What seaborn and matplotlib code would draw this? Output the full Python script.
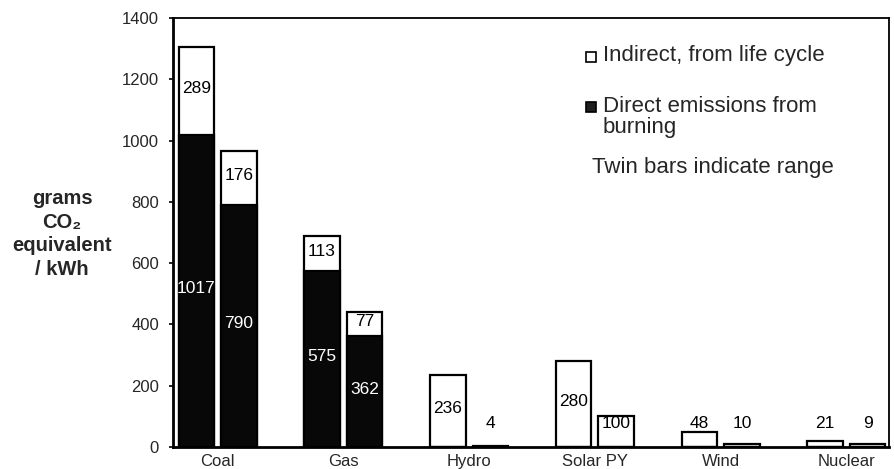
import numpy as np
import pandas as pd
import matplotlib
matplotlib.use('Agg')
import matplotlib.pyplot as plt
from matplotlib.patches import Rectangle
import seaborn as sns

# data
categories = ['Coal', 'Gas', 'Hydro', 'Solar PY', 'Wind', 'Nuclear']
direct_high = [1017, 575, 0, 0, 0, 0]
indirect_high = [289, 113, 236, 280, 48, 21]
direct_low = [790, 362, 0, 0, 0, 0]
indirect_low = [176, 77, 4, 100, 10, 9]
yticks = [0, 200, 400, 600, 800, 1000, 1200, 1400]

sns.set_style('white')
plt.rcParams['font.family'] = ['Liberation Sans', 'DejaVu Sans']

#long table: one row per bar
rows = []
for i, cat in enumerate(categories):
    rows.append([cat, 'high', direct_high[i], indirect_high[i]])
    rows.append([cat, 'low', direct_low[i], indirect_low[i]])
df = pd.DataFrame(rows, columns=['category', 'bar', 'direct', 'indirect'])
df['total'] = df['direct'] + df['indirect']

fig = plt.figure(figsize=(8.95, 4.69), dpi=100)
ax = fig.add_axes([173/895, 1-447/469, (889-173)/895, (447-18)/469])

common = dict(data=df, x='category', hue='bar', hue_order=['high', 'low'],
              order=categories, width=0.676, gap=0.166, errorbar=None,
              edgecolor='black', linewidth=1.6, legend=False, ax=ax)
sns.barplot(y='total', palette={'high': 'white', 'low': 'white'}, **common)
sns.barplot(y='direct', palette={'high': '#080808', 'low': '#080808'}, **common)

# value labels, centred on each bar
tot_conts = ax.containers[:2]
dir_conts = ax.containers[2:4]
for k, (tc, dc) in enumerate(zip(tot_conts, dir_conts)):
    sub = df[df['bar'] == ['high', 'low'][k]].reset_index(drop=True)
    for j, (tp, dp) in enumerate(zip(tc.patches, dc.patches)):
        xc = tp.get_x() + tp.get_width()/2
        d = sub.loc[j, 'direct']
        ind = sub.loc[j, 'indirect']
        ymid = d + ind/2
        ax.text(xc, max(ymid + 8, 78), str(ind), ha='center', va='center',
                fontsize=12.5, color='black')
        if d > 0:
            ax.text(xc, d/2 + 8, str(d), ha='center', va='center',
                    fontsize=12.5, color='white')

ax.set_xlim(-0.354, 5.338)
ax.set_ylim(0, 1400)
ax.set_yticks(yticks)
ax.set_yticklabels([str(t) for t in yticks], fontsize=12)
ax.tick_params(axis='y', left=True, length=3, width=1.2, pad=7, color='black')
ax.tick_params(axis='x', length=0, pad=5, labelsize=12)
ax.set_xlabel('')
ax.set_ylabel('')
for s in ax.spines.values():
    s.set_visible(True)
    s.set_color('black')
    s.set_linewidth(1.3)
ax.spines['left'].set_linewidth(2)
ax.spines['bottom'].set_linewidth(2)

fig.text(62/895, 1-234/469, 'grams\nCO₂\nequivalent\n/ kWh', ha='center', va='center',
         fontsize=14.5, fontweight='bold', linespacing=1.32)

# legend drawn by hand
fig.add_artist(Rectangle((586/895, 1-62/469), 10/895, 10/469, transform=fig.transFigure,
                         facecolor='white', edgecolor='black', linewidth=1.2))
fig.add_artist(Rectangle((586/895, 1-112/469), 10/895, 10/469, transform=fig.transFigure,
                         facecolor='#202020', edgecolor='black', linewidth=1.2))
fig.text(603/895, 1-55/469, 'Indirect, from life cycle', ha='left', va='center', fontsize=16)
fig.text(603/895, 1-117/469, 'Direct emissions from\nburning', ha='left', va='center',
         fontsize=16, linespacing=0.95)
fig.text(592/895, 1-167/469, 'Twin bars indicate range', ha='left', va='center', fontsize=16)

fig.savefig('out.png', dpi=100)
